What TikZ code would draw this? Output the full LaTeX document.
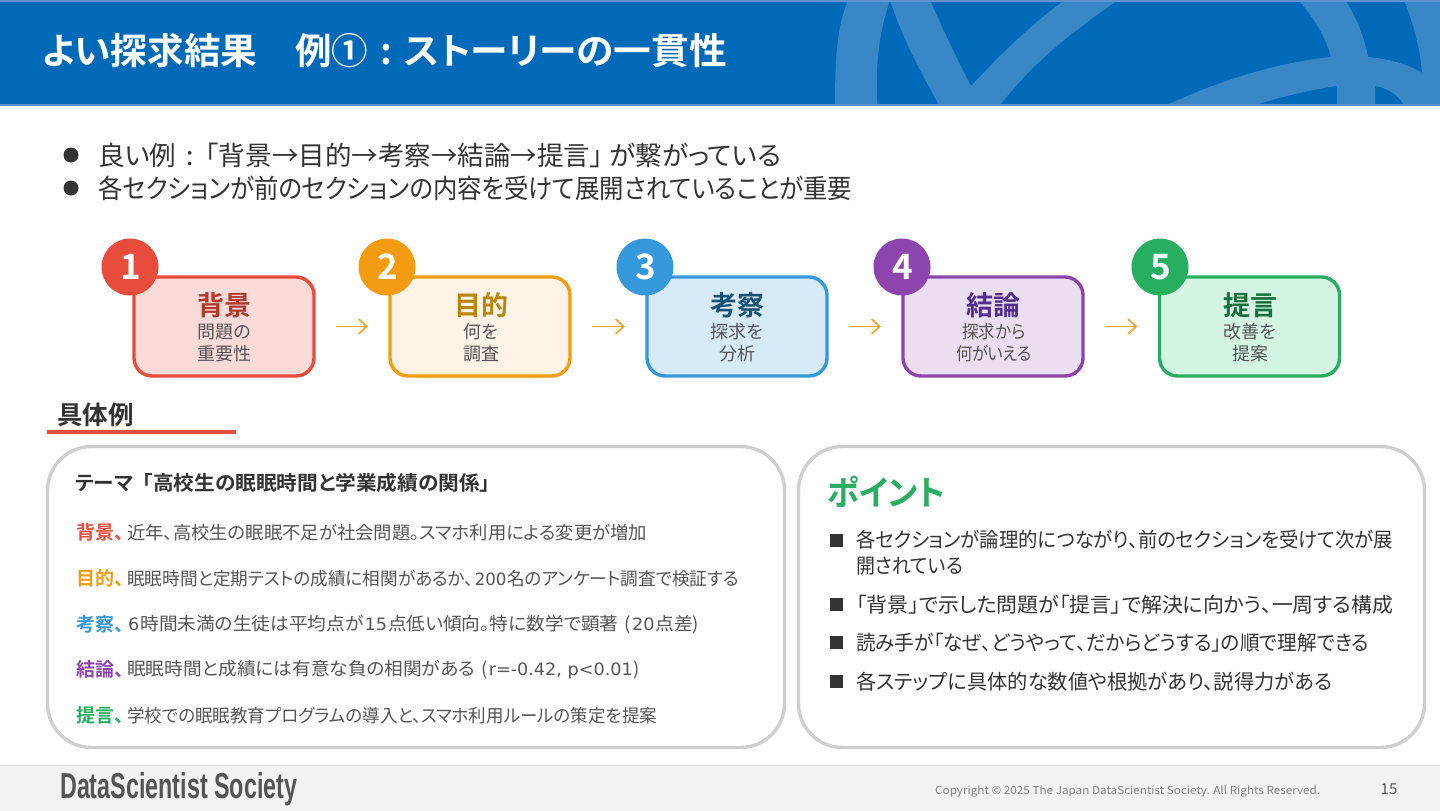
\documentclass[tikz,border=0pt]{standalone}
\usepackage{fontspec}
\setmainfont{Noto Sans CJK JP}[BoldFont={Noto Sans CJK JP Bold},RawFeature={+palt}]
\newfontfamily\logofont{Liberation Sans}[FakeStretch=0.62]
\newfontfamily\widefont{DejaVu Sans}
\newcommand{\pxfont}[1]{\fontsize{#1}{#1}\selectfont}
\newcommand{\fitw}[2]{\resizebox{#1pt}{\height}{#2}}
\newcommand{\wide}[1]{\hspace{1pt}{\widefont\pxfont{17}#1}\hspace{1pt}}
\newcommand{\badgenum}[1]{\hspace*{1.5pt}\raisebox{-1.5pt}{#1}}
\usetikzlibrary{arrows.meta}

\definecolor{headblue}{HTML}{0069B8}
\definecolor{headlight}{HTML}{3A87C8}
\definecolor{headedge}{HTML}{6092D2}
\definecolor{inkdark}{HTML}{333333}
\definecolor{inkbody}{HTML}{555555}
\definecolor{panelgray}{HTML}{CFCFCF}
\definecolor{redline}{HTML}{E74C3C}
\definecolor{orangeline}{HTML}{F39C12}
\definecolor{blueline}{HTML}{3498DB}
\definecolor{purpleline}{HTML}{8E44AD}
\definecolor{greenline}{HTML}{27AE60}
\definecolor{redfill}{HTML}{FADBD8}
\definecolor{orangefill}{HTML}{FEF3E6}
\definecolor{bluefill}{HTML}{D6EAF8}
\definecolor{purplefill}{HTML}{EBDEF0}
\definecolor{greenfill}{HTML}{D5F5E3}
\definecolor{redhead}{HTML}{B03A2E}
\definecolor{orangehead}{HTML}{B9860B}
\definecolor{bluehead}{HTML}{1A5276}
\definecolor{purplehead}{HTML}{512E90}
\definecolor{greenhead}{HTML}{196F3D}

\tikzset{
    card/.style={draw=#1line, fill=#1fill, line width=3.4pt, rounded corners=18pt,
        minimum width=180pt, minimum height=99pt, outer sep=0pt},
    badge/.style={circle, fill=#1line, text=white, minimum size=57pt, inner sep=0pt,
        font=\pxfont{35}\bfseries},
    cardhead/.style={text=#1head, font=\pxfont{27}\bfseries, inner sep=0pt},
    cardsub/.style={text=inkbody, font=\pxfont{18}, align=center, inner sep=0pt},
    flowarrow/.style={-{Straight Barb[length=8pt,width=15pt]}, draw=orangeline!85!white,
        line width=1.9pt, shorten <=22pt, shorten >=22pt},
    panel/.style={draw=panelgray, fill=white, line width=3.4pt, rounded corners=44pt,
        minimum height=301pt, outer sep=0pt},
    bodyline/.style={anchor=west, text=inkbody, font=\pxfont{18}, inner sep=0pt},
    rowlabel/.style={anchor=west, font=\pxfont{19}\bfseries, inner sep=0pt},
    pointline/.style={anchor=west, text=inkdark, font=\pxfont{20.5}, inner sep=0pt},
    leadline/.style={anchor=west, text=inkdark, font=\pxfont{26.5}, inner sep=0pt},
    dotmark/.style={circle, fill=inkdark, minimum size=15pt, inner sep=0pt},
    squaremark/.style={rectangle, fill=inkdark, minimum size=13pt, inner sep=0pt}
}

\begin{document}
\begin{tikzpicture}[x=1pt, y=-1pt]
            \useasboundingbox (0, 0) rectangle (1440, 811);

            % --- Banner ---
            \fill[headblue] (0, 0) rectangle (1440, 105);
            \begin{scope}
                \clip (0, 0) rectangle (1440, 105);
                \fill[headlight] (848, 0) .. controls (838, 25) and (835, 50) .. (835, 105)
                    -- (877.5, 105) .. controls (875, 60) and (880, 30) .. (890, 0) -- cycle;
                \fill[headlight] (890, 0) .. controls (905, 45) and (920, 70) .. (939, 105)
                    -- (1000, 105) .. controls (1035, 60) and (1075, 30) .. (1118, 0)
                    -- (1065, 0) .. controls (1030, 25) and (1000, 55) .. (971, 86)
                    .. controls (955, 55) and (943, 30) .. (930, 0) -- cycle;
                \fill[headlight] (1167, 105) .. controls (1220, 80) and (1280, 62) .. (1331, 57)
                    .. controls (1325, 35) and (1312, 15) .. (1298, 0) -- (1345, 0)
                    .. controls (1355, 15) and (1364, 35) .. (1368, 57)
                    .. controls (1390, 59) and (1410, 65) .. (1422, 73)
                    .. controls (1420, 45) and (1412, 20) .. (1404, 0) -- (1440, 0) -- (1440, 105)
                    -- (1404, 105) .. controls (1398, 95) and (1388, 88) .. (1375, 86)
                    -- (1375, 105) -- (1337, 105) -- (1337, 86)
                    .. controls (1310, 90) and (1280, 97) .. (1255, 105) -- cycle;
            \end{scope}
            \fill[headedge] (0, 0) rectangle (1440, 2);
            \fill[headedge] (0, 104) rectangle (1440, 106);
            \node[anchor=west, text=white, font=\pxfont{36.5}\bfseries, inner sep=0pt] (title) at (42, 51)
                {\fitw{215}{よい探求結果}\hspace{38pt}例①\hspace{12pt}:\hspace{12pt}\fitw{323}{ストーリーの一貫性}};

            % --- Lead lines ---
            \node[dotmark] (dot1) at (71, 155) {};
            \node[leadline] (lead1) at (98, 155.5) {\fitw{683}{良い例\hspace{10pt}:\hspace{12pt}「背景→目的→考察→結論→提言」\hspace{6pt}が繋がっている}};
            \node[dotmark] (dot2) at (71, 188) {};
            \node[leadline] (lead2) at (98, 188.5) {\fitw{754}{各セクションが前のセクションの内容を受けて展開されていることが重要}};

            % --- Step cards ---
            \node[card=red] (card1) at (224, 326.5) {};
            \node[card=orange] (card2) at (480, 326.5) {};
            \node[card=blue] (card3) at (737, 326.5) {};
            \node[card=purple] (card4) at (993, 326.5) {};
            \node[card=green] (card5) at (1249.5, 326.5) {};

            \node[badge=red] (badge1) at (130, 267) {\badgenum{1}};
            \node[badge=orange] (badge2) at (387, 267) {\badgenum{2}};
            \node[badge=blue] (badge3) at (645, 267) {\badgenum{3}};
            \node[badge=purple] (badge4) at (902, 267) {\badgenum{4}};
            \node[badge=green] (badge5) at (1160, 267) {\badgenum{5}};

            \node[cardhead=red] (head1) at (224, 305) {背景};
            \node[cardsub] (sub1) at (224, 343) {問題の\\[4pt]重要性};
            \node[cardhead=orange] (head2) at (481, 305) {目的};
            \node[cardsub] (sub2) at (481, 343) {何を\\[4pt]調査};
            \node[cardhead=blue] (head3) at (737, 305) {考察};
            \node[cardsub] (sub3) at (737, 343) {探求を\\[4pt]分析};
            \node[cardhead=purple] (head4) at (993, 305) {結論};
            \node[cardsub] (sub4) at (994, 343) {\fitw{63}{探求から}\\[4pt]\fitw{76}{何がいえる}};
            \node[cardhead=green] (head5) at (1250, 305) {提言};
            \node[cardsub] (sub5) at (1250, 343) {改善を\\[4pt]提案};

            % --- Arrows between the cards ---
            \draw[flowarrow] (card1) -- (card2);
            \draw[flowarrow] (card2) -- (card3);
            \draw[flowarrow] (card3) -- (card4);
            \draw[flowarrow] (card4) -- (card5);

            % --- Example heading ---
            \node[anchor=west, text=inkdark, font=\pxfont{25.5}\bfseries, inner sep=0pt] (example) at (57, 415) {具体例};
            \draw[redline, line width=4.5pt] (47, 432) -- (236, 432);

            % --- Left panel ---
            \node[panel, minimum width=737pt] (leftpanel) at (416, 597) {};
            \node[anchor=west, text=inkdark, font=\pxfont{20}\bfseries, inner sep=0pt] (theme) at (75, 483)
                {\fitw{415}{テーマ\hspace{9pt}「高校生の眠眠時間と学業成績の関係」}};
            \node[rowlabel, text=redline] (label1) at (76, 532.5) {背景、};
            \node[bodyline] (row1) at (127, 532.5) {\fitw{520}{近年、高校生の眠眠不足が社会問題。スマホ利用による変更が増加}};
            \node[rowlabel, text=orangeline] (label2) at (76, 578.5) {目的、};
            \node[bodyline] (row2) at (127, 578.5) {\fitw{612}{眠眠時間と定期テストの成績に相関があるか、\wide{200}名のアンケート調査で検証する}};
            \node[rowlabel, text=blueline] (label3) at (76, 624.5) {考察、};
            \node[bodyline] (row3) at (127, 624.5) {\fitw{572}{\wide{6}時間未満の生徒は平均点が\wide{15}点低い傾向。特に数学で顕著\hspace{6pt}(\wide{20}点差)}};
            \node[rowlabel, text=purpleline] (label4) at (76, 669.5) {結論、};
            \node[bodyline] (row4) at (127, 669.5) {\fitw{513}{眠眠時間と成績には有意な負の相関がある\hspace{6pt}(\wide{r=-0.42, p<0.01})}};
            \node[rowlabel, text=greenline] (label5) at (76, 715.5) {提言、};
            \node[bodyline] (row5) at (127, 715.5) {\fitw{530}{学校での眠眠教育プログラムの導入と、スマホ利用ルールの策定を提案}};

            % --- Right panel ---
            \node[panel, minimum width=626pt] (rightpanel) at (1111.5, 597) {};
            \node[anchor=west, text=greenline, font=\pxfont{34}\bfseries, inner sep=0pt] (point) at (827, 492) {\fitw{118}{ポイント}};
            \node[squaremark] (mark1) at (836.5, 540) {};
            \node[pointline] (item1) at (856, 539.5) {\fitw{537}{各セクションが論理的につながり、前のセクションを受けて次が展}};
            \node[pointline] (item1b) at (856, 566.5) {\fitw{107}{開されている}};
            \node[squaremark] (mark2) at (836.5, 604) {};
            \node[pointline] (item2) at (856, 604.5) {\fitw{537}{「背景」で示した問題が「提言」で解決に向かう、一周する構成}};
            \node[squaremark] (mark3) at (836.5, 642) {};
            \node[pointline] (item3) at (856, 642.5) {\fitw{513}{読み手が「なぜ、どうやって、だからどうする」の順で理解できる}};
            \node[squaremark] (mark4) at (836.5, 681) {};
            \node[pointline] (item4) at (856, 681.5) {\fitw{476}{各ステップに具体的な数値や根拠があり、説得力がある}};

            % --- Footer ---
            \fill[black!5] (0, 765) rectangle (1440, 811);
            \draw[black!12, line width=1pt] (0, 765) -- (1440, 765);
            \node[anchor=base west, text=inkbody, font=\logofont\pxfont{36}\bfseries, inner sep=0pt] (logo) at (60, 798) {\fitw{237}{DataScientist Society}};
            \node[anchor=west, text=black!50, font=\pxfont{11}, inner sep=0pt] (copyright) at (935, 791.5)
                {\fitw{385}{Copyright © 2025 The Japan DataScientist Society. All Rights Reserved.}};
            \node[text=inkbody, font=\pxfont{15}, inner sep=0pt] (page) at (1389, 789) {15};
\end{tikzpicture}
\end{document}
